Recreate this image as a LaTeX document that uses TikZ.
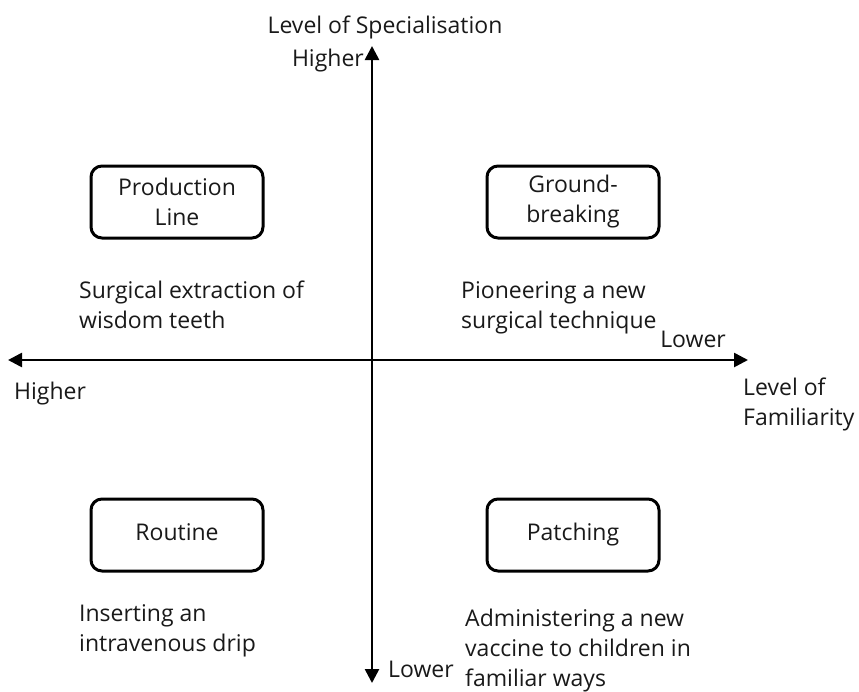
\documentclass[tikz,border=0pt]{standalone}
\usepackage{fontspec}
\setmainfont{Open Sans}
\usetikzlibrary{arrows.meta}
\begin{document}
\begin{tikzpicture}[x=1pt,y=-1pt,
  txt/.style={inner sep=0pt, text=black!90, font=\fontsize{23}{30}\selectfont},
  axis/.style={line width=2.6pt, -{Triangle[length=14pt,width=14pt]}},
  quadbox/.style={txt, draw=black, line width=3pt, rounded corners=11pt,
    minimum width=172pt, minimum height=72pt, align=center},
  onebox/.style={quadbox, text height=17pt, text depth=6pt},
  lbl/.style={txt, anchor=base west, align=left},
  lblr/.style={txt, anchor=base east}]
\useasboundingbox (0,0) rectangle (859,691);

% axes
\coordinate (C) at (372,360);
\coordinate (N) at (372,46);
\coordinate (S) at (372,683);
\coordinate (W) at (8,360);
\coordinate (E) at (748,360);
\draw[axis] (C) -- (N);
\draw[axis] (C) -- (S);
\draw[axis] (C) -- (W);
\draw[axis] (C) -- (E);

% axis labels (multi-line nodes are anchored at their last baseline)
\node[txt, anchor=base] (spec) at (385,33) {Level of Specialisation};
\node[lblr] (hiTop) at (364,66) {Higher};
\node[lbl] (loBot) at (388,677) {Lower};
\node[lbl] (hiLeft) at (14,399) {Higher};
\node[lblr] (loRight) at (726,347) {Lower};
\node[lbl] (fam) at (743,425) {Level of\\Familiarity};

% quadrant boxes
\node[quadbox] (prod) at (177,202) {Production\\Line};
\node[quadbox] (ground) at (573,202) {Ground-\\breaking};
\node[onebox] (routine) at (177,535) {Routine};
\node[onebox] (patch) at (573,535) {Patching};

% examples
\node[lbl] (ex1) at (79,328) {Surgical extraction of\\wisdom teeth};
\node[lbl] (ex2) at (461,328) {Pioneering a new\\surgical technique};
\node[lbl] (ex3) at (79,651) {Inserting an\\intravenous drip};
\node[lbl] (ex4) at (465,686) {Administering a new\\vaccine to children in\\familiar ways};
\end{tikzpicture}
\end{document}
